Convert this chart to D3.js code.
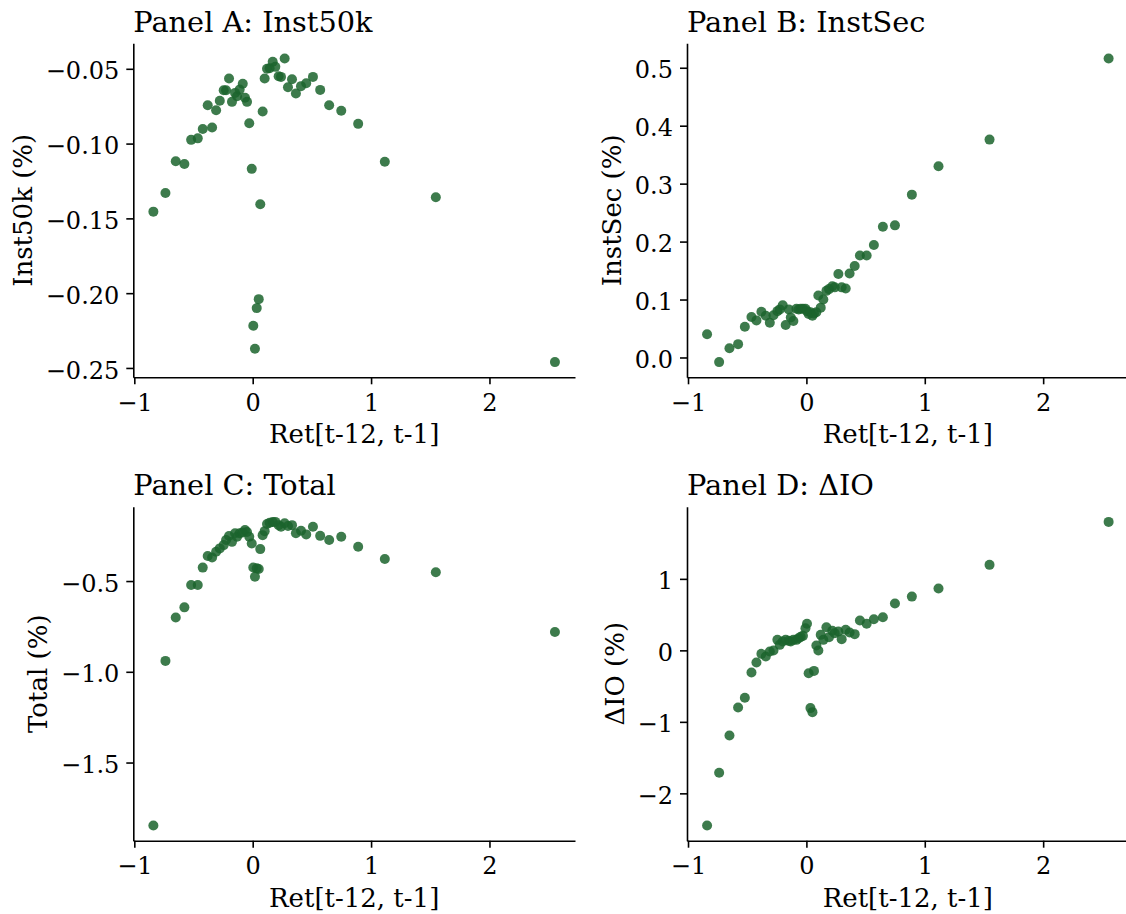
<!DOCTYPE html>
<html><head><meta charset="utf-8">
<script src="https://cdn.jsdelivr.net/npm/d3@7"></script>
<style>
body{margin:0;background:#fff}
text{font-family:"DejaVu Serif",serif;fill:#000}
</style>
</head><body>
<svg id="chart" width="1126" height="914"></svg>
<script>
// ---- data ----
const retX = [-0.839,-0.737,-0.650,-0.577,-0.520,-0.464,-0.422,-0.380,-0.343,-0.309,-0.278,-0.245,-0.225,-0.200,-0.175,-0.149,-0.132,-0.110,-0.084,-0.065,-0.048,-0.029,-0.008,0.005,0.019,0.034,0.051,0.064,0.084,0.101,0.121,0.143,0.169,0.191,0.219,0.239,0.270,0.298,0.332,0.365,0.408,0.452,0.509,0.570,0.646,0.748,0.891,1.116,1.547,2.553];
const inst50k = [-0.1455,-0.1330,-0.1118,-0.1136,-0.0975,-0.0965,-0.0902,-0.0744,-0.0893,-0.0777,-0.0714,-0.0643,-0.0643,-0.0565,-0.0721,-0.0661,-0.0683,-0.0639,-0.0600,-0.0694,-0.0721,-0.0864,-0.1169,-0.2218,-0.2372,-0.2100,-0.2040,-0.1406,-0.0786,-0.0565,-0.0500,-0.0496,-0.0453,-0.0487,-0.0550,-0.0554,-0.0431,-0.0623,-0.0570,-0.0665,-0.0616,-0.0596,-0.0554,-0.0641,-0.0744,-0.0781,-0.0868,-0.1122,-0.1359,-0.2461];
const instSec = [0.040,-0.008,0.016,0.023,0.053,0.070,0.064,0.079,0.072,0.060,0.073,0.080,0.083,0.090,0.056,0.083,0.069,0.063,0.084,0.083,0.084,0.084,0.084,0.080,0.075,0.078,0.072,0.076,0.078,0.107,0.086,0.100,0.115,0.118,0.123,0.121,0.144,0.121,0.119,0.145,0.158,0.176,0.176,0.194,0.2255,0.228,0.281,0.330,0.376,0.516];
const total = [-1.847,-0.940,-0.701,-0.645,-0.522,-0.522,-0.426,-0.362,-0.370,-0.339,-0.320,-0.302,-0.274,-0.252,-0.284,-0.237,-0.256,-0.237,-0.232,-0.219,-0.230,-0.256,-0.293,-0.425,-0.476,-0.430,-0.434,-0.324,-0.247,-0.225,-0.186,-0.179,-0.175,-0.174,-0.192,-0.201,-0.182,-0.197,-0.192,-0.237,-0.223,-0.243,-0.201,-0.251,-0.274,-0.256,-0.311,-0.379,-0.452,-0.781];
const deltaIO = [-2.450,-1.713,-1.192,-0.800,-0.664,-0.310,-0.171,-0.049,-0.087,-0.017,-0.003,0.147,0.077,0.123,0.147,0.133,0.123,0.147,0.147,0.171,0.189,0.203,0.310,0.371,-0.319,-0.808,-0.864,-0.287,0.067,-0.003,0.217,0.147,0.324,0.185,0.273,0.241,0.263,0.157,0.287,0.249,0.227,0.417,0.371,0.436,0.464,0.655,0.752,0.864,1.196,1.797];

const xTicks = [-1, 0, 1, 2];
const ticksA = [-0.25, -0.20, -0.15, -0.10, -0.05];
const ticksB = [0.0, 0.1, 0.2, 0.3, 0.4, 0.5];
const ticksC = [-1.5, -1.0, -0.5];
const ticksD = [-2, -1, 0, 1];
const titles = ["Panel A: Inst50k", "Panel B: InstSec", "Panel C: Total", "Panel D: \u0394IO"];
const yLabels = ["Inst50k (%)", "InstSec (%)", "Total (%)", "\u0394IO (%)"];
const xLabel = "Ret[t-12, t-1]";

// ---- layout ----
const svg = d3.select("#chart");
svg.append("rect").attr("width",1126).attr("height",914).attr("fill","#fff");
const W = 441.7, H = 334;
const panels = [
  {left:133.3, top:43.3, ys:inst50k, ticks:ticksA, fmt:d3.format(".2f")},
  {left:687.0, top:43.3, ys:instSec, ticks:ticksB, fmt:d3.format(".1f")},
  {left:133.3, top:506.7, ys:total, ticks:ticksC, fmt:d3.format(".1f")},
  {left:687.0, top:506.7, ys:deltaIO, ticks:ticksD, fmt:d3.format("d")}
];
const dotColor = "rgb(27,100,45)";

function padded(arr){
  const [a,b] = d3.extent(arr); const m = (b-a)*0.05; return [a-m, b+m];
}

panels.forEach((p, i) => {
  const g = svg.append("g").attr("transform", `translate(${p.left},${p.top})`);
  const x = d3.scaleLinear().domain(padded(retX)).range([0, W]);
  const y = d3.scaleLinear().domain(padded(p.ys)).range([H, 0]);

  // points
  g.append("g").selectAll("circle").data(retX.map((v,k)=>[v,p.ys[k]]))
    .join("circle")
    .attr("cx", d=>x(d[0])).attr("cy", d=>y(d[1])).attr("r", 5)
    .attr("fill", dotColor).attr("fill-opacity", 0.85);

  // x axis
  const xa = g.append("g").attr("transform", `translate(0,${H})`)
    .call(d3.axisBottom(x).tickValues(xTicks).tickFormat(d3.format("d")).tickSize(7).tickPadding(7).tickSizeOuter(0));
  // y axis
  const ya = g.append("g")
    .call(d3.axisLeft(y).tickValues(p.ticks).tickFormat(p.fmt).tickSize(7).tickPadding(7).tickSizeOuter(0));
  [xa, ya].forEach(a => {
    a.select(".domain").attr("stroke","#000").attr("stroke-width",1.6);
    a.selectAll(".tick line").attr("stroke","#000").attr("stroke-width",1.6);
    a.selectAll(".tick text").attr("font-family",'"DejaVu Serif",serif').attr("font-size",24).attr("fill","#000");
  });
  xa.selectAll(".tick text").attr("dy","0.81em");
  ya.selectAll(".tick text").attr("dy","0.42em");

  // title
  g.append("text").attr("x",0).attr("y",-11.5).attr("font-size",28.8).text(titles[i]);

  // x label
  g.append("text").attr("x",W/2).attr("y",H+66).attr("text-anchor","middle").attr("font-size",26).text(xLabel);

  // y label placed left of tick labels
  let minX = 0;
  ya.selectAll(".tick text").each(function(){ const b=this.getBBox(); minX=Math.min(minX, b.x); });
  const lx = minX - 8 - 6.1;
  g.append("text").attr("transform",`translate(${lx},${H/2}) rotate(-90)`)
    .attr("text-anchor","middle").attr("font-size",26).text(yLabels[i]);
});
</script>
</body></html>
